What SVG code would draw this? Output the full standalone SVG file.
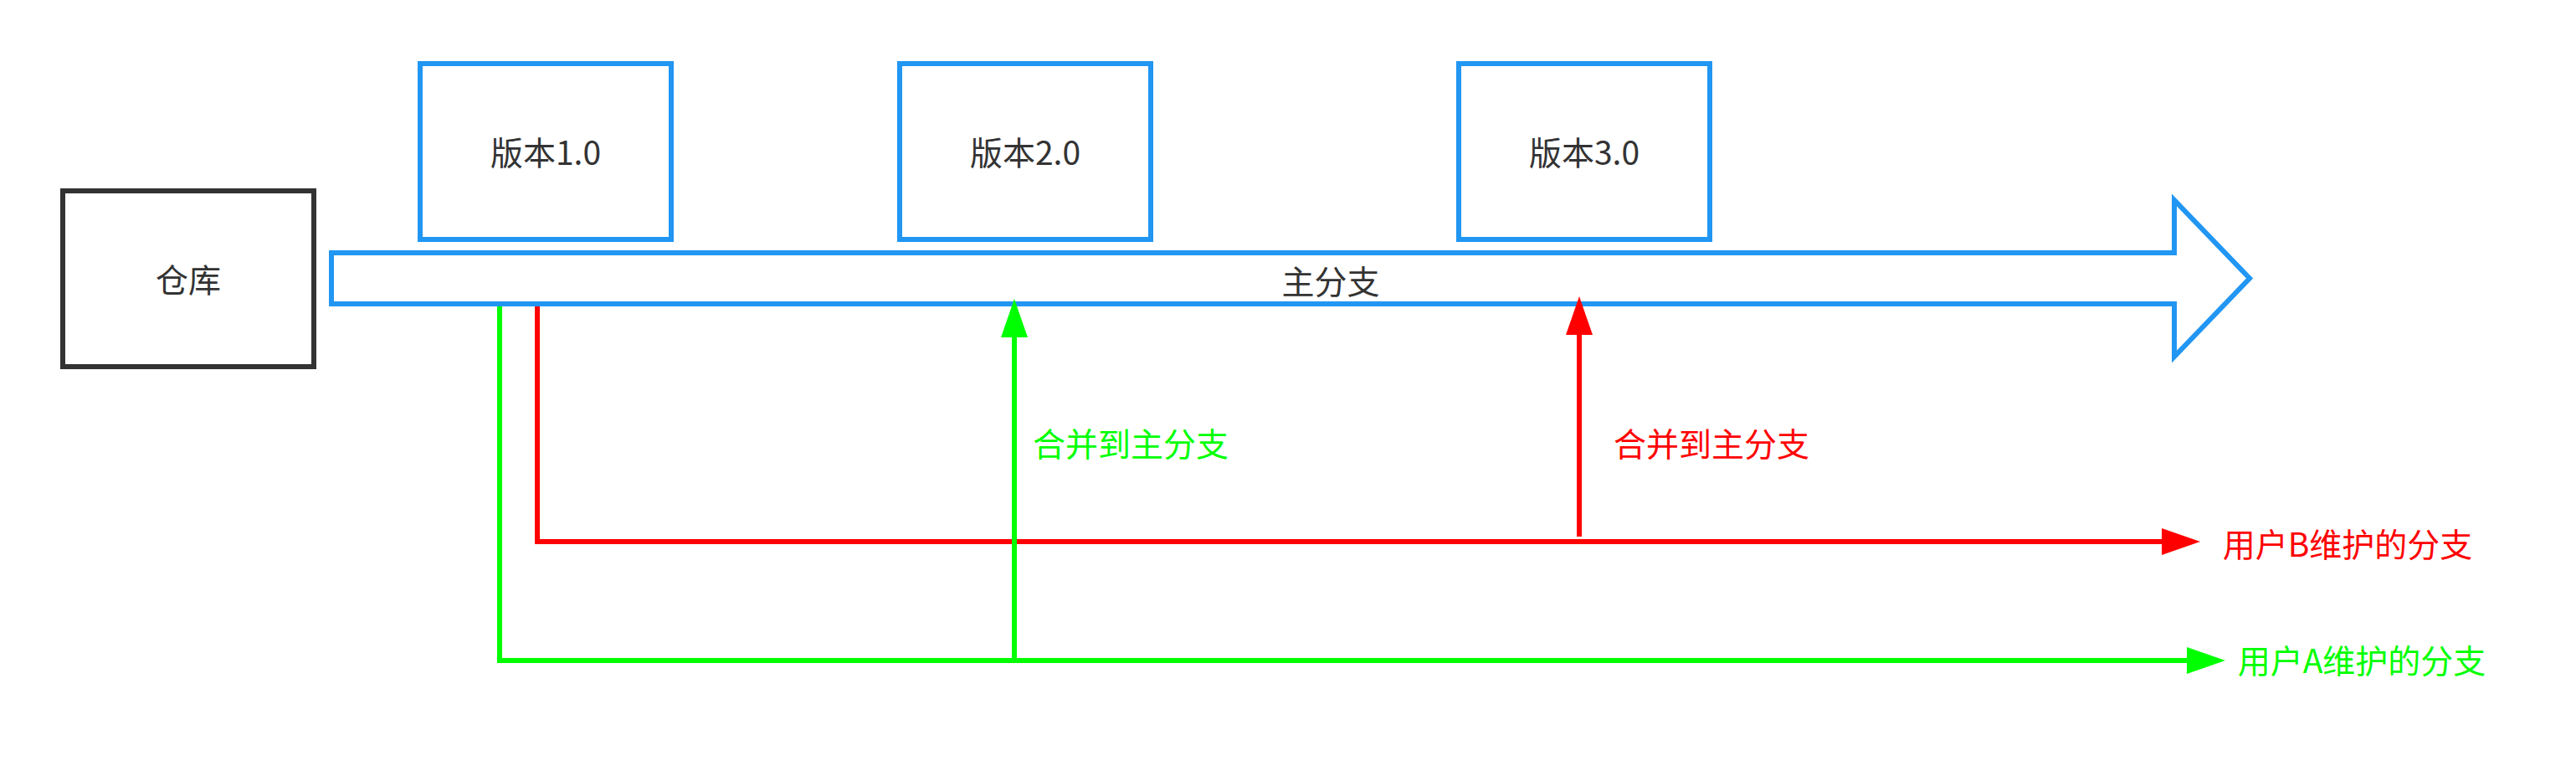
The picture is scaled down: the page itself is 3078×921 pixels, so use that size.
<svg xmlns="http://www.w3.org/2000/svg" width="3078" height="921" viewBox="0 0 3078 921">
<style>
text{font-family:"Noto Sans CJK SC","Noto Sans",sans-serif;font-size:39px;dominant-baseline:central;text-anchor:middle}
.dark{fill:#333333}
.box{fill:#ffffff;stroke:#2196F3;stroke-width:6}
.repo{fill:#ffffff;stroke:#333333;stroke-width:6}
.g{stroke:#00FF00;stroke-width:6;fill:none}
.r{stroke:#FF0000;stroke-width:6;fill:none}
.gt{fill:#00FF00}
.rt{fill:#FF0000}
</style>
<defs>
<marker id="ag" viewBox="0 0 46 32" refX="0" refY="16" markerWidth="46" markerHeight="32" markerUnits="userSpaceOnUse" orient="auto"><path d="M0,0 L46,16 L0,32 Z" fill="#00FF00"/></marker>
<marker id="ar" viewBox="0 0 46 32" refX="0" refY="16" markerWidth="46" markerHeight="32" markerUnits="userSpaceOnUse" orient="auto"><path d="M0,0 L46,16 L0,32 Z" fill="#FF0000"/></marker>
</defs>
<rect width="3078" height="921" fill="#ffffff"/>
<g id="repo"><rect class="repo" x="75" y="228" width="300" height="210"/><text class="dark" x="225" y="332">仓库</text></g>
<g id="v1"><rect class="box" x="502" y="76" width="300" height="210"/><text class="dark" x="652" y="180">版本1.0</text></g>
<g id="v2"><rect class="box" x="1075" y="76" width="300" height="210"/><text class="dark" x="1225" y="180">版本2.0</text></g>
<g id="v3"><rect class="box" x="1743" y="76" width="300" height="210"/><text class="dark" x="1893" y="180">版本3.0</text></g>
<g id="main"><path class="box" d="M396,302 L2598,302 L2598,239 L2688,332.5 L2598,426 L2598,363 L396,363 Z"/><text class="dark" x="1590" y="334">主分支</text></g>
<g id="connectors">
<path class="g" d="M597,366 L597,789 L2613,789" marker-end="url(#ag)"/>
<path class="r" d="M642,366 L642,647 L2583,647" marker-end="url(#ar)"/>
<path class="g" d="M1212,789 L1212,403" marker-end="url(#ag)"/>
<path class="r" d="M1887,641 L1887,400" marker-end="url(#ar)"/>
</g>
<g id="labels">
<text class="gt" x="1351" y="528">合并到主分支</text>
<text class="rt" x="2045" y="528">合并到主分支</text>
<text class="rt" x="2805" y="648">用户B维护的分支</text>
<text class="gt" x="2822" y="787">用户A维护的分支</text>
</g>
</svg>
